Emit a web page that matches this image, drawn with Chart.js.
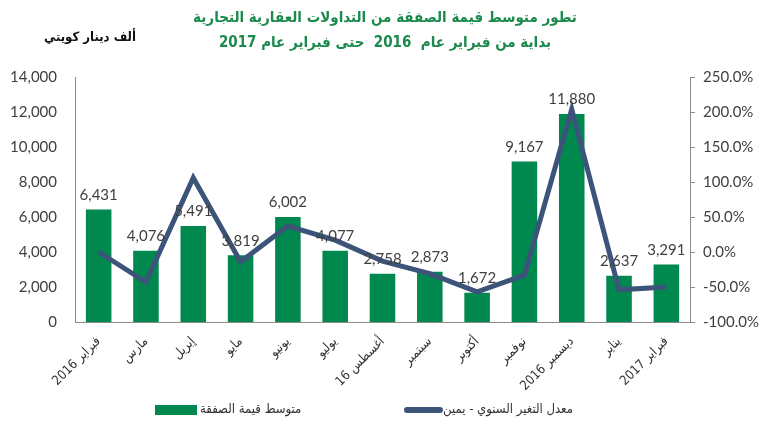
<!DOCTYPE html>
<html>
<head>
<meta charset="utf-8">
<script src="https://cdn.jsdelivr.net/npm/chart.js@4"></script>
<style>
  html, body { margin: 0; padding: 0; background: #fff; }
  #wrap { width: 770px; height: 431px; }
</style>
</head>
<body>
<div id="wrap"><canvas id="dealChart" width="770" height="431"></canvas></div>
<script>
// الفئات والقيم
const months = ['فبراير 2016', 'مارس', 'إبريل', 'مايو', 'يونيو', 'يوليو', 'أغسطس 16',
    'سبتمبر', 'أكتوبر', 'نوفمبر', 'ديسمبر 2016', 'يناير', 'فبراير 2017'];
const avgDeal = [6431, 4076, 5491, 3819, 6002, 4077, 2758, 2873, 1672, 9167, 11880, 2637, 3291];
const yoyChange = [0, -43, 106, -14, 37, 17, -13, -31, -57, -33, 204, -54, -50];
const leftAxis = [0, 14000, 2000];   // min, max, pas
const rightAxis = [-100, 250, 50];

const titleLines = ['تطور متوسط قيمة الصفقة من التداولات العقارية التجارية',
    'بداية من فبراير عام  2016  حتى فبراير عام 2017'];
const unitLabel = 'ألف دينار كويتي';
const barLabel = 'متوسط قيمة الصفقة';
const lineLabel = 'معدل التغير السنوي - يمين';

const green = '#00884f';
const navy = '#3c5479';
const numFont = "Lato, 'Open Sans', sans-serif";
const arFont = "'DejaVu Sans Condensed', 'DejaVu Sans', sans-serif";

// étiquettes de valeurs + unité + légende
const extras = {
    id: 'extras',
    afterDatasetsDraw(chart) {
        const ctx = chart.ctx;
        const meta = chart.getDatasetMeta(0);
        ctx.save();
        ctx.font = '15px ' + numFont;
        ctx.fillStyle = '#404040';
        ctx.textAlign = 'center';
        ctx.textBaseline = 'bottom';
        meta.data.forEach((bar, i) => {
            ctx.fillText(avgDeal[i].toLocaleString('en-US'), bar.x, bar.y - 7);
        });
        ctx.restore();
    },
    afterDraw(chart) {
        const ctx = chart.ctx;
        ctx.save();
        ctx.fillStyle = '#111';
        ctx.font = 'bold 13px ' + arFont;
        ctx.textAlign = 'right';
        ctx.textBaseline = 'middle';
        ctx.fillText(unitLabel, 136, 38);

        // légende
        ctx.font = '13px ' + arFont;
        ctx.textAlign = 'left';
        ctx.fillStyle = green;
        ctx.fillRect(155, 405, 42, 10);
        ctx.fillStyle = '#333';
        ctx.fillText(barLabel, 200, 410);

        ctx.strokeStyle = navy;
        ctx.lineWidth = 6;
        ctx.lineCap = 'round';
        ctx.beginPath();
        ctx.moveTo(407, 410);
        ctx.lineTo(440, 410);
        ctx.stroke();
        ctx.fillText(lineLabel, 443, 410);
        ctx.restore();
    }
};

new Chart(document.getElementById('dealChart'), {
    type: 'bar',
    data: {
        labels: months,
        datasets: [
            {
                label: barLabel,
                data: avgDeal,
                backgroundColor: green,
                borderWidth: 0,
                barPercentage: 0.54,
                categoryPercentage: 1,
                yAxisID: 'y',
                order: 2
            },
            {
                label: lineLabel,
                data: yoyChange,
                type: 'line',
                borderColor: navy,
                backgroundColor: navy,
                borderWidth: 5,
                pointRadius: 0,
                tension: 0,
                yAxisID: 'y1',
                order: 1
            }
        ]
    },
    options: {
        responsive: false,
        animation: false,
        layout: { padding: { left: 0, right: 0, top: 0, bottom: 0 } },
        plugins: {
            legend: { display: false },
            tooltip: { enabled: false },
            title: {
                display: true,
                text: titleLines,
                color: '#1c8a4c',
                font: { family: arFont, size: 15, weight: 'bold', lineHeight: '25px' },
                padding: { top: 6, bottom: 21 }
            }
        },
        scales: {
            x: {
                grid: { display: false },
                border: { display: true, color: '#8c8c8c' },
                ticks: {
                    color: '#333',
                    font: { family: arFont, size: 13 },
                    minRotation: 45,
                    maxRotation: 45,
                    autoSkip: false,
                    padding: 4
                },
                afterFit(s) { s.height = 109; }
            },
            y: {
                position: 'left',
                min: leftAxis[0],
                max: leftAxis[1],
                grid: { display: false },
                border: { display: true, color: '#8c8c8c' },
                ticks: {
                    stepSize: leftAxis[2],
                    color: '#404040',
                    font: { family: numFont, size: 15 },
                    padding: 10,
                    callback: v => v.toLocaleString('en-US')
                },
                afterFit(s) { s.width = 75; }
            },
            y1: {
                position: 'right',
                min: rightAxis[0],
                max: rightAxis[1],
                grid: { display: true, drawOnChartArea: false, tickLength: 5, color: '#8c8c8c' },
                border: { display: true, color: '#8c8c8c' },
                ticks: {
                    stepSize: rightAxis[2],
                    color: '#404040',
                    font: { family: numFont, size: 15 },
                    padding: 8,
                    callback: v => v.toFixed(1) + '%'
                },
                afterFit(s) { s.width = 80; }
            }
        }
    },
    plugins: [extras]
});
</script>
</body>
</html>
